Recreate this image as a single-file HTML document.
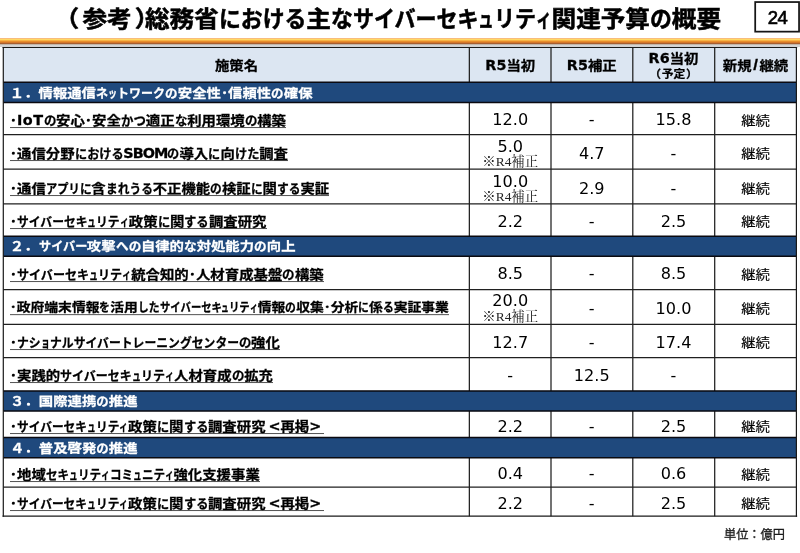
<!DOCTYPE html>
<html lang="ja"><head><meta charset="utf-8"><title>総務省における主なサイバーセキュリティ関連予算の概要</title>
<style>
html,body{margin:0;padding:0;background:#fff;}
body{width:800px;height:553px;position:relative;overflow:hidden;font-family:"Liberation Sans","Noto Sans CJK JP",sans-serif;color:#000;}
.abs{position:absolute;}
.t{--k:1;--sx:1;--sy:1;position:absolute;white-space:nowrap;transform-origin:0 50%;transform:scale(var(--sx),var(--sy));line-height:1;}
.c{position:absolute;white-space:nowrap;text-align:center;line-height:1;}
.title{--sy:0.925;font-weight:bold;font-size:24.6px;top:8.4px;-webkit-text-stroke:0.55px #000;}
.k{display:inline-block;transform:scaleX(calc(var(--f) * var(--k)));transform-origin:0 50%;margin-right:calc((var(--f) * var(--k) - 1) * var(--n) * 1em);}
.kh{--f:0.86;}.kk{--f:0.825;}.ks{--f:0.62;}
.pgn{left:754.8px;width:45.2px;top:9.2px;font-size:18.5px;letter-spacing:-0.6px;-webkit-text-stroke:0.65px #000;}
.name{--sy:0.88;-webkit-text-stroke:0.3px #000;font-weight:bold;font-size:14.36px;border-bottom:1.1px solid #3c3c3c;padding-bottom:0.5px;}
.l{font-family:"DejaVu Sans","Liberation Sans",sans-serif;font-size:0.96em;}
.name .l,.hdt .l{white-space:pre;display:inline-block;font-size:1em;transform:scaleY(1.15);transform-origin:50% 84%;}
.sect{--sy:0.86;-webkit-text-stroke:0.3px #fff;font-weight:bold;font-size:14.36px;color:#fff;}
.hdt{-webkit-text-stroke:0.3px #000;transform:scaleY(0.88);font-weight:bold;font-size:14.36px;}
.hds{font-weight:bold;font-size:11.8px;-webkit-text-stroke:0.25px #000;transform:scaleY(0.92);}
.num{font-family:"DejaVu Sans","Liberation Sans",sans-serif;font-size:16.1px;}
.note{font-family:"Liberation Serif","Noto Serif CJK SC",serif;font-size:13.4px;color:#222;}
.kz{font-size:14.36px;transform:scaleY(0.9);-webkit-text-stroke:0.15px #000;}
.unit{font-size:12.2px;color:#1a1a1a;-webkit-text-stroke:0.3px #1a1a1a;}
</style></head>
<body>
<div class="t title" id="tp1" style="left:54.5px">（</div>
<div class="t title" id="tp2" style="left:82.5px">参考</div>
<div class="t title" id="tp3" style="left:134.8px">）</div>
<div class="t title" id="title" style="left:145.0px;--k:1.0333;">総務省<span class="k kh" style="--n:4">における</span>主<span class="k kh" style="--n:1">な</span><span class="k kk" style="--n:6">サイバーセキ</span><span class="k ks" style="--n:1">ュ</span><span class="k kk" style="--n:2">リテ</span><span class="k ks" style="--n:1">ィ</span>関連予算<span class="k kh" style="--n:1">の</span>概要</div>
<svg class="abs" style="left:0;top:38px" width="800" height="9" viewBox="0 0 800 9" shape-rendering="crispEdges"><rect x="0" y="0" width="800" height="1" fill="#f8bd7c"/><rect x="0" y="1" width="800" height="1" fill="#ffd965"/><rect x="0" y="2" width="800" height="1" fill="#f8b244"/><rect x="0" y="3" width="800" height="1" fill="#e88d2c"/><rect x="0" y="4" width="800" height="1" fill="#d5772a"/><rect x="0" y="5" width="800" height="1" fill="#a75e30"/><rect x="0" y="6" width="800" height="1" fill="#c2b5a8"/><rect x="0" y="7" width="800" height="1" fill="#d4d4d4"/><rect x="0" y="8" width="800" height="1" fill="#d2d2d2"/></svg>
<svg class="abs" style="left:750px;top:0" width="50" height="36" viewBox="750 0 50 36"><rect x="755.2" y="2.05" width="43.85" height="29.6" fill="#fff" stroke="#151515" stroke-width="1.75"/></svg><div class="c pgn">24</div>
<svg class="abs" style="left:0;top:0" width="800" height="553" viewBox="0 0 800 553"><rect x="3.30" y="47.50" width="793.10" height="468.65" fill="#fff"/><rect x="3.30" y="47.50" width="793.10" height="34.80" fill="#dce6f2"/><rect x="3.30" y="82.30" width="793.10" height="20.10" fill="#1f497d"/><rect x="3.30" y="236.25" width="793.10" height="19.95" fill="#1f497d"/><rect x="3.30" y="390.90" width="793.10" height="20.15" fill="#1f497d"/><rect x="3.30" y="437.50" width="793.10" height="20.20" fill="#1f497d"/><path d="M3.30 134.55H796.40M3.30 169.20H796.40M3.30 203.95H796.40M3.30 289.55H796.40M3.30 324.30H796.40M3.30 357.50H796.40M3.30 487.05H796.40M469.35 47.50V82.30M469.35 102.40V236.25M469.35 256.20V390.90M469.35 411.05V437.50M469.35 457.70V516.15M551.00 47.50V82.30M551.00 102.40V236.25M551.00 256.20V390.90M551.00 411.05V437.50M551.00 457.70V516.15M632.80 47.50V82.30M632.80 102.40V236.25M632.80 256.20V390.90M632.80 411.05V437.50M632.80 457.70V516.15M714.70 47.50V82.30M714.70 102.40V236.25M714.70 256.20V390.90M714.70 411.05V437.50M714.70 457.70V516.15" stroke="#202020" stroke-width="1.25" fill="none"/><path d="M3.30 82.30H796.40M3.30 102.40H796.40M3.30 236.25H796.40M3.30 256.20H796.40M3.30 390.90H796.40M3.30 411.05H796.40M3.30 437.50H796.40M3.30 457.70H796.40" stroke="#0a0a10" stroke-width="1.45" fill="none"/><path d="M2.55 47.5H797.15" stroke="#1a1a1a" stroke-width="1.05"/><path d="M2.55 516.15H797.15" stroke="#1a1a1a" stroke-width="1.35"/><path d="M3.30 47V516.8M796.40 47V516.8" stroke="#1a1a1a" stroke-width="1.2"/></svg>
<div class="c hdt" style="left:3.5px;width:466.0px;top:58.8px;">施策名</div>
<div class="c hdt" style="left:469.5px;width:81.5px;top:59.3px;"><span class="l">R5</span>当初</div>
<div class="c hdt" style="left:551.0px;width:81.5px;top:59.3px;"><span class="l">R5</span>補正</div>
<div class="c hdt" style="left:632.5px;width:82.0px;top:51.6px;"><span class="l">R6</span>当初</div>
<div class="c hds" style="left:632.5px;width:82.0px;top:68.5px;"><span style="margin-right:0.6px">（</span>予定<span style="margin-left:0.6px">）</span></div>
<div class="c hdt" style="left:714.5px;width:82.0px;top:59.3px;">新規<span style="padding:0 1.6px;font-size:1.18em;line-height:0">/</span>継続</div>
<div class="t sect" id="r0" style="left:9.8px;top:86.5px;--k:1.0160;">１．情報通信<span class="k kk" style="--n:1">ネ</span><span class="k ks" style="--n:1">ッ</span><span class="k kk" style="--n:4">トワーク</span><span class="k kh" style="--n:1">の</span>安全性<span class="d">･</span>信頼性<span class="k kh" style="--n:1">の</span>確保</div>
<div class="t name" id="r1" style="left:9.8px;top:112.6px;font-size:14.4px;--k:1.0084;"><span class="d">･</span><span class="l" style="letter-spacing:0.5px">IoT</span><span class="k kh" style="--n:1">の</span>安心<span class="d">･</span>安全<span class="k kh" style="--n:2">かつ</span>適正<span class="k kh" style="--n:1">な</span>利用環境<span class="k kh" style="--n:1">の</span>構築</div>
<div class="c num" style="left:469.5px;width:81.5px;top:112.2px;">12.0</div>
<div class="c num" style="left:551.0px;width:81.5px;top:112.2px;">-</div>
<div class="c num" style="left:632.5px;width:82.0px;top:112.2px;">15.8</div>
<div class="c kz" style="left:714.5px;width:82.0px;top:112.6px;">継続</div>
<div class="t name" id="r2" style="left:9.8px;top:146.3px;font-size:14.4px;--k:0.9843;"><span class="d">･</span>通信分野<span class="k kh" style="--n:4">における</span><span class="l" style="letter-spacing:-1.0px">SBOM</span><span class="k kh" style="--n:1">の</span>導入<span class="k kh" style="--n:1">に</span>向<span class="k kh" style="--n:2">けた</span>調査</div>
<div class="c num" style="left:469.5px;width:81.5px;top:138.9px;">5.0</div>
<div class="c note" style="left:469.5px;width:81.5px;top:155.3px;">※R4補正</div>
<div class="c num" style="left:551.0px;width:81.5px;top:146.0px;">4.7</div>
<div class="c num" style="left:632.5px;width:82.0px;top:146.0px;">-</div>
<div class="c kz" style="left:714.5px;width:82.0px;top:146.3px;">継続</div>
<div class="t name" id="r3" style="left:9.8px;top:181.0px;font-size:14.4px;--k:0.9476;"><span class="d">･</span>通信<span class="k kk" style="--n:3">アプリ</span><span class="k kh" style="--n:1">に</span>含<span class="k kh" style="--n:4">まれうる</span>不正機能<span class="k kh" style="--n:1">の</span>検証<span class="k kh" style="--n:1">に</span>関<span class="k kh" style="--n:2">する</span>実証</div>
<div class="c num" style="left:469.5px;width:81.5px;top:173.9px;">10.0</div>
<div class="c note" style="left:469.5px;width:81.5px;top:190.3px;">※R4補正</div>
<div class="c num" style="left:551.0px;width:81.5px;top:180.7px;">2.9</div>
<div class="c num" style="left:632.5px;width:82.0px;top:180.7px;">-</div>
<div class="c kz" style="left:714.5px;width:82.0px;top:181.0px;">継続</div>
<div class="t name" id="r4" style="left:9.8px;top:214.0px;font-size:14.4px;--k:0.9931;"><span class="d">･</span><span class="k kk" style="--n:6">サイバーセキ</span><span class="k ks" style="--n:1">ュ</span><span class="k kk" style="--n:2">リテ</span><span class="k ks" style="--n:1">ィ</span>政策<span class="k kh" style="--n:1">に</span>関<span class="k kh" style="--n:2">する</span>調査研究</div>
<div class="c num" style="left:469.5px;width:81.5px;top:213.7px;">2.2</div>
<div class="c num" style="left:551.0px;width:81.5px;top:213.7px;">-</div>
<div class="c num" style="left:632.5px;width:82.0px;top:213.7px;">2.5</div>
<div class="c kz" style="left:714.5px;width:82.0px;top:214.0px;">継続</div>
<div class="t sect" id="r5" style="left:9.8px;top:240.0px;--k:1.0247;">２．<span class="k kk" style="--n:4">サイバー</span>攻撃<span class="k kh" style="--n:2">への</span>自律的<span class="k kh" style="--n:1">な</span>対処能力<span class="k kh" style="--n:1">の</span>向上</div>
<div class="t name" id="r6" style="left:9.8px;top:266.6px;font-size:14.4px;--k:1.0141;"><span class="d">･</span><span class="k kk" style="--n:6">サイバーセキ</span><span class="k ks" style="--n:1">ュ</span><span class="k kk" style="--n:2">リテ</span><span class="k ks" style="--n:1">ィ</span>統合知的<span class="d">･</span>人材育成基盤<span class="k kh" style="--n:1">の</span>構築</div>
<div class="c num" style="left:469.5px;width:81.5px;top:266.2px;">8.5</div>
<div class="c num" style="left:551.0px;width:81.5px;top:266.2px;">-</div>
<div class="c num" style="left:632.5px;width:82.0px;top:266.2px;">8.5</div>
<div class="c kz" style="left:714.5px;width:82.0px;top:266.6px;">継続</div>
<div class="t name" id="r7" style="left:9.8px;top:301.4px;font-size:13.8px;--k:0.9103;"><span class="d">･</span>政府端末情報<span class="k kh" style="--n:1">を</span>活用<span class="k kh" style="--n:2">した</span><span class="k kk" style="--n:6">サイバーセキ</span><span class="k ks" style="--n:1">ュ</span><span class="k kk" style="--n:2">リテ</span><span class="k ks" style="--n:1">ィ</span>情報<span class="k kh" style="--n:1">の</span>収集<span class="d">･</span>分析<span class="k kh" style="--n:1">に</span>係<span class="k kh" style="--n:1">る</span>実証事業</div>
<div class="c num" style="left:469.5px;width:81.5px;top:293.4px;">20.0</div>
<div class="c note" style="left:469.5px;width:81.5px;top:309.8px;">※R4補正</div>
<div class="c num" style="left:551.0px;width:81.5px;top:300.7px;">-</div>
<div class="c num" style="left:632.5px;width:82.0px;top:300.7px;">10.0</div>
<div class="c kz" style="left:714.5px;width:82.0px;top:301.1px;">継続</div>
<div class="t name" id="r8" style="left:9.8px;top:335.1px;font-size:14.4px;--k:0.9968;"><span class="d">･</span><span class="k kk" style="--n:2">ナシ</span><span class="k ks" style="--n:1">ョ</span><span class="k kk" style="--n:16">ナルサイバートレーニングセンター</span><span class="k kh" style="--n:1">の</span>強化</div>
<div class="c num" style="left:469.5px;width:81.5px;top:334.7px;">12.7</div>
<div class="c num" style="left:551.0px;width:81.5px;top:334.7px;">-</div>
<div class="c num" style="left:632.5px;width:82.0px;top:334.7px;">17.4</div>
<div class="c kz" style="left:714.5px;width:82.0px;top:335.1px;">継続</div>
<div class="t name" id="r9" style="left:9.8px;top:368.1px;font-size:14.4px;--k:1.0114;"><span class="d">･</span>実践的<span class="k kk" style="--n:6">サイバーセキ</span><span class="k ks" style="--n:1">ュ</span><span class="k kk" style="--n:2">リテ</span><span class="k ks" style="--n:1">ィ</span>人材育成<span class="k kh" style="--n:1">の</span>拡充</div>
<div class="c num" style="left:469.5px;width:81.5px;top:367.7px;">-</div>
<div class="c num" style="left:551.0px;width:81.5px;top:367.7px;">12.5</div>
<div class="c num" style="left:632.5px;width:82.0px;top:367.7px;">-</div>
<div class="t sect" id="r10" style="left:9.8px;top:395.0px;--sx:1.0026;">３．国際連携<span class="k kh" style="--n:1">の</span>推進</div>
<div class="t name" id="r11" style="left:9.8px;top:419.1px;font-size:14.4px;--k:0.9864;"><span class="d">･</span><span class="k kk" style="--n:6">サイバーセキ</span><span class="k ks" style="--n:1">ュ</span><span class="k kk" style="--n:2">リテ</span><span class="k ks" style="--n:1">ィ</span>政策<span class="k kh" style="--n:1">に</span>関<span class="k kh" style="--n:2">する</span>調査研究<span class="l"> &lt;</span>再掲<span class="l">&gt; </span></div>
<div class="c num" style="left:469.5px;width:81.5px;top:418.9px;">2.2</div>
<div class="c num" style="left:551.0px;width:81.5px;top:418.9px;">-</div>
<div class="c num" style="left:632.5px;width:82.0px;top:418.9px;">2.5</div>
<div class="c kz" style="left:714.5px;width:82.0px;top:419.1px;">継続</div>
<div class="t sect" id="r12" style="left:9.8px;top:441.5px;--sx:1.0026;">４．普及啓発<span class="k kh" style="--n:1">の</span>推進</div>
<div class="t name" id="r13" style="left:9.8px;top:466.6px;font-size:14.4px;--k:0.9758;"><span class="d">･</span>地域<span class="k kk" style="--n:2">セキ</span><span class="k ks" style="--n:1">ュ</span><span class="k kk" style="--n:2">リテ</span><span class="k ks" style="--n:1">ィ</span><span class="k kk" style="--n:2">コミ</span><span class="k ks" style="--n:1">ュ</span><span class="k kk" style="--n:2">ニテ</span><span class="k ks" style="--n:1">ィ</span>強化支援事業</div>
<div class="c num" style="left:469.5px;width:81.5px;top:466.4px;">0.4</div>
<div class="c num" style="left:551.0px;width:81.5px;top:466.4px;">-</div>
<div class="c num" style="left:632.5px;width:82.0px;top:466.4px;">0.6</div>
<div class="c kz" style="left:714.5px;width:82.0px;top:466.6px;">継続</div>
<div class="t name" id="r14" style="left:9.8px;top:496.1px;font-size:14.4px;--k:0.9864;"><span class="d">･</span><span class="k kk" style="--n:6">サイバーセキ</span><span class="k ks" style="--n:1">ュ</span><span class="k kk" style="--n:2">リテ</span><span class="k ks" style="--n:1">ィ</span>政策<span class="k kh" style="--n:1">に</span>関<span class="k kh" style="--n:2">する</span>調査研究<span class="l"> &lt;</span>再掲<span class="l">&gt; </span></div>
<div class="c num" style="left:469.5px;width:81.5px;top:495.9px;">2.2</div>
<div class="c num" style="left:551.0px;width:81.5px;top:495.9px;">-</div>
<div class="c num" style="left:632.5px;width:82.0px;top:495.9px;">2.5</div>
<div class="c kz" style="left:714.5px;width:82.0px;top:496.1px;">継続</div>
<div class="t unit" style="left:724px;top:529.2px">単位：億円</div>
</body></html>
